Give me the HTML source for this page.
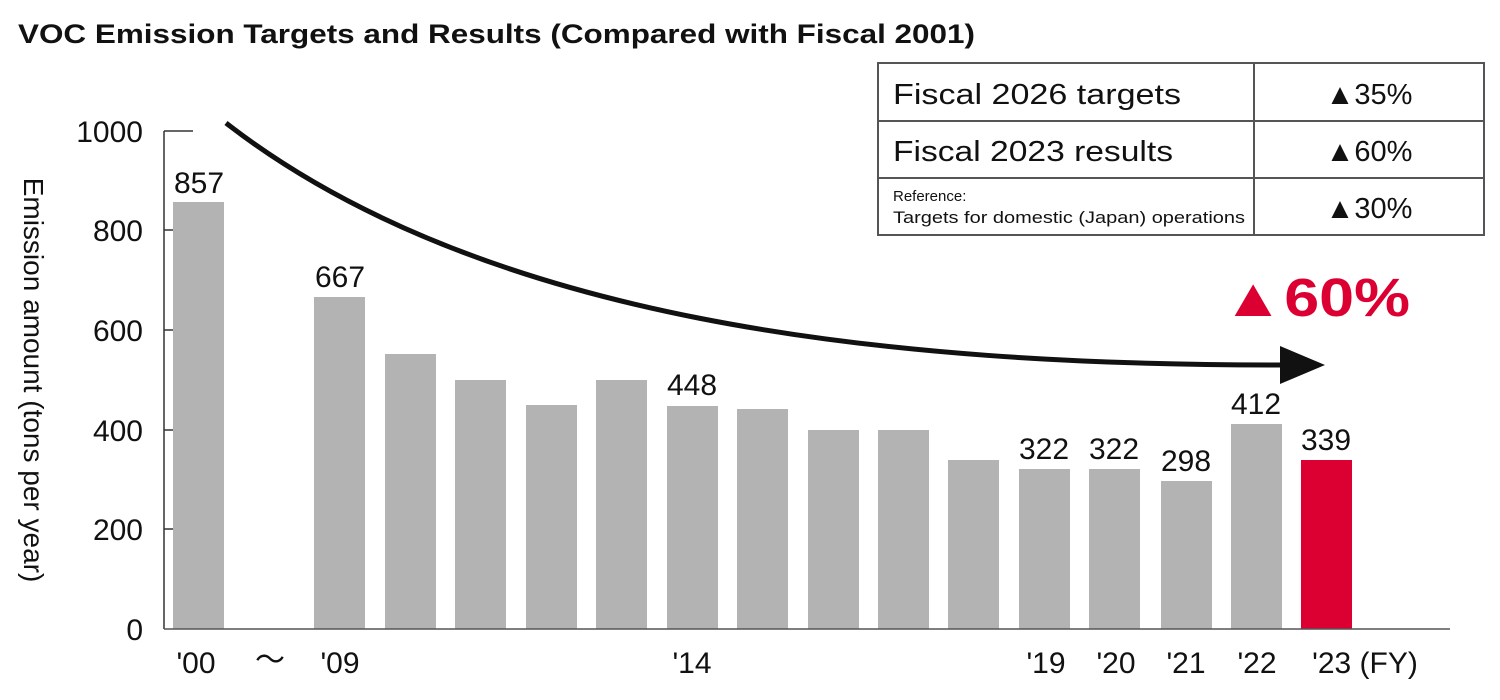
<!DOCTYPE html>
<html><head><meta charset="utf-8"><style>
body{margin:0;background:#fff;width:1500px;height:700px;overflow:hidden}
svg{display:block;font-family:"Liberation Sans","DejaVu Sans",sans-serif}
</style></head><body>
<svg width="1500" height="700" viewBox="0 0 1500 700">
<text x="18" y="43" font-size="27" font-weight="bold" fill="#111" textLength="957" lengthAdjust="spacingAndGlyphs">VOC Emission Targets and Results (Compared with Fiscal 2001)</text>
<g stroke="#555" stroke-width="2" fill="none">
<rect x="878" y="63" width="606" height="172"/>
<line x1="878" y1="121" x2="1484" y2="121"/>
<line x1="878" y1="178" x2="1484" y2="178"/>
<line x1="1254" y1="63" x2="1254" y2="235"/>
</g>
<g fill="#111" font-size="29">
<text x="893" y="104" textLength="288" lengthAdjust="spacingAndGlyphs">Fiscal 2026 targets</text>
<text x="893" y="161" textLength="280" lengthAdjust="spacingAndGlyphs">Fiscal 2023 results</text>
<text x="1369" y="104" text-anchor="middle">▲35%</text>
<text x="1369" y="161" text-anchor="middle">▲60%</text>
<text x="1369" y="218" text-anchor="middle">▲30%</text>
<text x="893" y="201" font-size="15">Reference:</text>
<text x="893" y="223" font-size="17" textLength="352" lengthAdjust="spacingAndGlyphs">Targets for domestic (Japan) operations</text>
</g>
<g stroke="#333" stroke-width="1.5" fill="none">
<line x1="164" y1="131" x2="164" y2="629"/>
<line x1="164" y1="131" x2="193" y2="131"/>
<line x1="164" y1="230" x2="173" y2="230"/>
<line x1="164" y1="330" x2="173" y2="330"/>
<line x1="164" y1="430" x2="173" y2="430"/>
<line x1="164" y1="529" x2="173" y2="529"/>
</g>
<g font-size="30" fill="#111" text-anchor="end">
<text x="143" y="142">1000</text>
<text x="143" y="241">800</text>
<text x="143" y="341">600</text>
<text x="143" y="441">400</text>
<text x="143" y="540">200</text>
<text x="143" y="640">0</text>
</g>
<text transform="translate(24,380) rotate(90)" font-size="28" fill="#111" text-anchor="middle">Emission amount (tons per year)</text>
<g fill="#b3b3b3">
<rect x="173" y="202" width="51" height="427"/>
<rect x="314" y="297" width="51" height="332"/>
<rect x="385" y="354" width="51" height="275"/>
<rect x="455" y="380" width="51" height="249"/>
<rect x="526" y="405" width="51" height="224"/>
<rect x="596" y="380" width="51" height="249"/>
<rect x="667" y="406" width="51" height="223"/>
<rect x="737" y="409" width="51" height="220"/>
<rect x="808" y="430" width="51" height="199"/>
<rect x="878" y="430" width="51" height="199"/>
<rect x="948" y="460" width="51" height="169"/>
<rect x="1019" y="469" width="51" height="160"/>
<rect x="1089" y="469" width="51" height="160"/>
<rect x="1161" y="481" width="51" height="148"/>
<rect x="1231" y="424" width="51" height="205"/>
</g>
<rect x="1301" y="460" width="51" height="169" fill="#dc0032"/>
<line x1="164" y1="629" x2="1450" y2="629" stroke="#555" stroke-width="1.5"/>
<g font-size="30" fill="#111" text-anchor="middle">
<text x="199" y="193">857</text>
<text x="340" y="287">667</text>
<text x="692" y="395">448</text>
<text x="1044" y="459">322</text>
<text x="1114" y="459">322</text>
<text x="1186" y="471">298</text>
<text x="1256" y="414">412</text>
<text x="1326" y="450">339</text>
</g>
<g font-size="30" fill="#111" text-anchor="middle">
<text x="196" y="673">'00</text>
<text x="270" y="670">～</text>
<text x="340" y="673">'09</text>
<text x="692" y="673">'14</text>
<text x="1046" y="673">'19</text>
<text x="1116" y="673">'20</text>
<text x="1186" y="673">'21</text>
<text x="1257" y="673">'22</text>
<text x="1365" y="673">'23 (FY)</text>
</g>
<path d="M226,123 C480,320 880,366 1290,365" stroke="#111" stroke-width="5" fill="none"/>
<polygon points="1280,346 1325,365 1280,384" fill="#111"/>
<text x="1222" y="316" font-size="54" font-weight="bold" fill="#dc0032" textLength="188" lengthAdjust="spacingAndGlyphs">▲60%</text>
</svg>
</body></html>
